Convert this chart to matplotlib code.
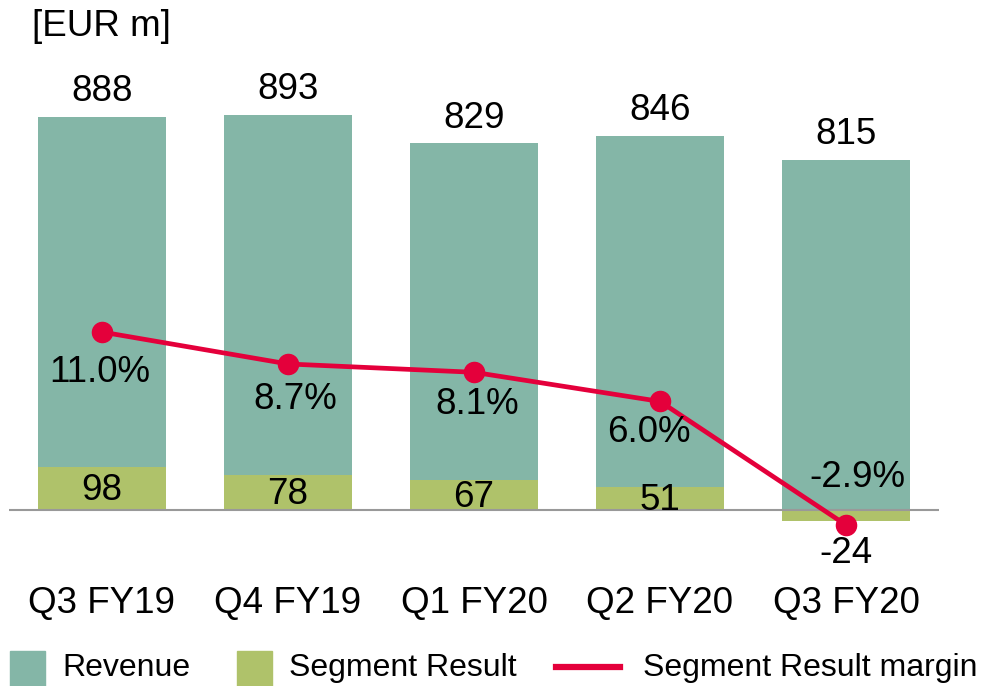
import numpy as np
import matplotlib
matplotlib.use('Agg')
import matplotlib.pyplot as plt
from matplotlib.patches import Rectangle
from matplotlib.lines import Line2D

# 数据
quarters = ['Q3 FY19', 'Q4 FY19', 'Q1 FY20', 'Q2 FY20', 'Q3 FY20']
revenue = [888, 893, 829, 846, 815]
segment_result = [98, 78, 67, 51, -24]
margin = [11.0, 8.7, 8.1, 6.0, -2.9]
margin_labels = ['11.0%', '8.7%', '8.1%', '6.0%', '-2.9%']

# 颜色
C_REV = '#84B6A7'
C_SEG = '#AFC26A'
C_LINE = '#E4003B'
C_BASE = '#999999'

plt.rcParams['font.family'] = ['Liberation Sans', 'DejaVu Sans']
FS = 26.5
PX = 72 / 100  # 像素 -> 磅

fig = plt.figure(figsize=(9.9, 6.86), dpi=100)
W, H = 990, 686
ax_l, ax_r, ax_t, ax_b = 9, 939, 80, 540
ax = fig.add_axes([ax_l / W, 1 - ax_b / H, (ax_r - ax_l) / W, (ax_b - ax_t) / H])

x = np.arange(len(quarters))
bar_w = 0.69

# 收入柱（负的分部结果时从柱中扣除）
rev_h = [r + min(s, 0) for r, s in zip(revenue, segment_result)]
ax.bar(x, rev_h, width=bar_w, color=C_REV, zorder=2)
ax.bar(x, segment_result, width=bar_w, color=C_SEG, zorder=3)
ax.axhline(0, color=C_BASE, lw=1.5, zorder=4)

ax.set_xlim(-0.5, 4.5)
ax.set_ylim(-67.8, 971.5)
for s in ax.spines.values():
    s.set_visible(False)
ax.set_yticks([])
ax.set_xticks(x)
ax.set_xticklabels(quarters, fontsize=FS)
ax.tick_params(axis='x', length=0, pad=46 * PX)

# 收入标签
for xi, h, r in zip(x, rev_h, revenue):
    ax.annotate(str(r), (xi, h), xytext=(0, 25 * PX), textcoords='offset points',
                ha='center', va='center', fontsize=FS, zorder=6)

# 分部结果标签
for xi, s in zip(x, segment_result):
    if s >= 0:
        ax.annotate(str(s), (xi, s / 2), xytext=(0, -2 * PX), textcoords='offset points',
                    ha='center', va='center', fontsize=FS, zorder=6)
    else:
        ax.annotate(str(s), (xi, s), xytext=(0, -33 * PX), textcoords='offset points',
                    ha='center', va='center', fontsize=FS, zorder=6)

# 利润率折线（副坐标轴）
ax2 = ax.twinx()
ax2.set_ylim(-3.984, 29.16)
ax2.set_yticks([])
for s in ax2.spines.values():
    s.set_visible(False)
ax2.plot(x, margin, color=C_LINE, lw=3.4, marker='o', markersize=14.5, zorder=5)

label_offsets = [(-2, -40), (7, -36), (3, -32), (-11, -31), (11, 47)]
for xi, m, lab, (dx, dy) in zip(x, margin, margin_labels, label_offsets):
    ax2.annotate(lab, (xi, m), xytext=(dx * PX, dy * PX), textcoords='offset points',
                 ha='center', va='center', fontsize=FS, zorder=6)

# 单位
fig.text(32 / W, 1 - 26 / H, '[EUR m]', fontsize=FS, ha='left', va='center')

# 图例（手动放置）
LFS = 23
fig.patches.append(Rectangle((10 / W, 1 - 686 / H), 35 / W, 35 / H,
                             transform=fig.transFigure, color=C_REV))
fig.text(62 / W, 1 - 668 / H, 'Revenue', fontsize=LFS, ha='left', va='center')
fig.patches.append(Rectangle((237 / W, 1 - 686 / H), 35 / W, 35 / H,
                             transform=fig.transFigure, color=C_SEG))
fig.text(289 / W, 1 - 668 / H, 'Segment Result', fontsize=LFS, ha='left', va='center')
fig.lines.append(Line2D([556 / W, 620 / W], [1 - 667 / H, 1 - 667 / H],
                        transform=fig.transFigure, color=C_LINE, lw=4.5))
fig.text(643 / W, 1 - 668 / H, 'Segment Result margin', fontsize=LFS, ha='left', va='center')

fig.savefig('out.png', dpi=100)
